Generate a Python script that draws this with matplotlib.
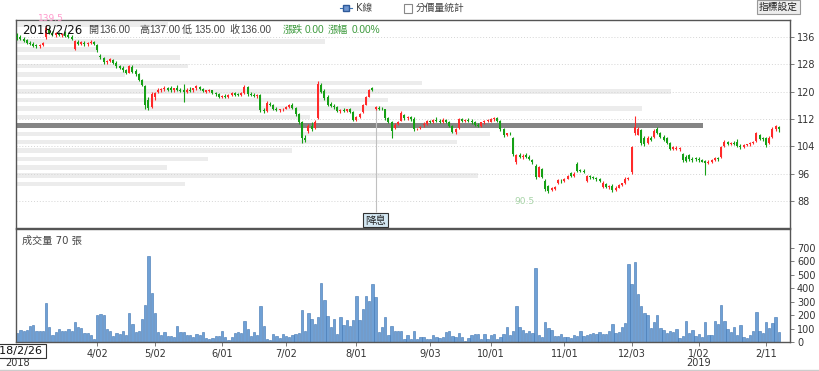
import matplotlib
matplotlib.use('Agg')
import matplotlib.pyplot as plt
from matplotlib.patches import Rectangle
from matplotlib.lines import Line2D
import numpy as np

plt.rcParams['font.family'] = ['DejaVu Sans', 'Noto Sans CJK TC']

# ---------------- data ----------------
opens = [136,136,135.5,135,134.2,134,133.5,133.2,133.5,135.8,
         138.3,137.2,136.6,137,136.5,137,136.5,136,132.4,134.6,
         134,134.3,133.8,134.3,134.4,133.5,130.5,129.8,128.5,129,
         129.2,128.3,127.4,126.8,126.2,125.5,127.3,126,125,123.4,
         121.5,117.5,115.5,118.5,119.8,120.6,120.8,121,121,120.4,
         121.2,120.5,120.6,120,120.5,120.4,121,121.4,120.8,120,
         120.3,120.4,119.6,119.2,118.4,118.6,118.3,119,119.5,119.2,
         119,119.6,121.3,119.3,119,118.8,119,114.5,114.2,116.5,
         116,115,114.5,114.8,115,115.5,116,115.3,113.4,111,
         106.5,108.5,110,109.5,112.3,122,120.2,118.5,116.4,115.8,
         115.5,114.4,114.6,114.4,114.8,114,111.8,112.6,114,116.2,
         118.5,121,114.8,115.3,115,114.8,112.2,111.2,109.5,110.5,
         111.5,113.2,112.2,112.6,112,109,109.3,110.2,110.6,111.4,
         111,111.6,111.5,111,111.8,111,110,108.2,109.4,112,
         111.4,111.8,111.5,111,110.4,110,111,111.4,111.2,112,
         112.2,111.4,109,107.2,107.6,106.5,99.4,101.6,101,101.4,
         100.9,100,98.4,95.2,97.5,94,92.4,91.2,91.6,93.4,
         94,93.8,94.6,96.3,95.5,99,97,96.9,93.8,95.4,
         95,94.8,94.4,92.2,93,92.2,92.6,91.2,92,92.8,
         93.2,94.6,96.4,108,107.4,108.8,106.6,105,106.4,106.8,
         109,107.8,106.8,106.4,105,103.4,103.2,103.2,101.8,101,
         101.4,100.4,100.6,100.4,100,99.8,99.2,99.6,100,100.6,
         100.8,104,105.2,104.8,105,105.2,104.2,103.8,104.4,104.6,
         105,105.6,107.4,106.6,106.4,105,106.8,109,109.8]
highs = [137,136.5,136,135.5,134.8,134.5,134,134,134.6,139.5,
         138.8,137.8,137.4,137.5,137.2,137.6,137,136.5,135,135.2,
         134.8,134.8,134.6,135,134.8,133.8,131,130.2,129.3,129.8,
         129.5,128.8,127.8,127.5,126.6,127.8,127.8,126.5,125.3,123.8,
         122,118.5,119.8,120,121,121.2,121.5,121.4,121.6,121.2,
         121.8,121,122.2,121,121.3,121.2,121.8,121.7,121.2,120.6,
         120.8,120.6,120,119.5,119,119.2,119.3,119.8,119.8,119.6,
         119.8,121.8,121.6,119.8,119.5,119.4,119.2,115.2,117.2,117,
         116.4,115.5,115,115.2,115.8,116.4,116.6,115.6,113.8,111.3,
         107.4,110.5,111,111.6,123,122.5,120.8,119,117,116.4,
         115.8,115,115.2,115,115.3,114.3,113,113.8,116.5,118.8,
         120.8,121.4,115.8,115.8,115.6,115,112.6,111.5,110.8,111.5,
         114.4,113.6,113,113,112.5,109.5,110,111,111.8,111.8,
         112,112.5,112,112.2,112,111.3,110.3,109.5,112.3,112.4,
         112,112.4,112,111.4,110.8,111.2,111.8,112,112.3,112.6,
         112.5,111.6,109.3,108,108.2,106.8,101.8,102.2,101.8,102,
         101.4,100.2,98.8,98.4,97.8,94.4,92.8,92.2,92.6,94.6,
         94.5,94.8,95.6,96.6,96.4,99.5,97.5,97.3,95.8,95.8,
         95.5,95.2,94.8,93.8,93.4,92.8,93,92.4,93,93.4,
         95,95.2,104.2,113,109.6,109,107,107,107,109,
         109.6,108.2,107.4,106.8,105.4,104.2,104,103.8,102.2,101.4,
         101.8,100.8,100.8,101,100.4,100,100,100.2,101,101,
         104.2,105.8,105.6,105.4,105.6,106.2,104.6,104.6,104.8,105.2,
         105.6,108.2,107.6,106.8,106.8,107,109.6,110.4,110]
lows = [135,135.2,134.5,134,133.5,133,132.8,132.8,133.2,135.5,
        136.8,136.2,136,136.2,135.8,136,135.6,135,132,133.6,
        133.5,133.4,133.4,134,133.6,131.5,129.5,128,128,128.6,
        128,127,126.5,125.8,125,125.3,125.5,124.7,123,121.5,
        115,114.5,115.2,117.5,119.5,120,120.2,120.3,120,119.8,
        120.2,119.8,117,119.5,119.8,120,120.6,120.6,119.8,119.5,
        119.8,119.4,118.8,118,118,118,118,118.7,118.8,118.6,
        118.8,119.4,118.8,118.6,118.3,118.2,114,113.8,114,115.8,
        114.6,114.2,114,114.3,114.8,115.2,115,113,110.5,105,
        105.4,108,108.5,109.2,112,119.5,117.5,115.8,115.4,115,
        114,113.8,114,114,113.8,111.4,111.5,112.4,113.8,116,
        118.3,120.2,114.6,114.6,114.5,111.8,110.8,106.5,109,110.2,
        111.3,111.8,111.6,111.5,108.6,108.8,109,109.8,110.4,110.8,
        110.8,111.2,110.8,110.8,110.8,109.6,107.8,107.5,109.2,111,
        111,111.2,110.6,110,109.6,109.8,110.6,111,111,111.5,
        111,108.5,106.8,107,107.2,101.2,99,100.5,100.4,100.6,
        100,99,94.6,95,94.8,91,90.5,91,91.4,93,
        93.4,93.6,94.4,95,95.2,96.5,96.4,96.3,93.5,94.6,
        94.4,94,93.6,92,91.8,91.6,90.8,91,91.8,92.4,
        93,94.2,96,107.4,107.2,104.5,104,104.8,105.6,106.6,
        107.6,106.4,105.6,104.6,103,103,103,102.8,99.6,99.4,
        99.8,99.6,99.8,99.6,99.4,95.7,98.8,99.2,99.8,99.8,
        100.6,103.8,104.4,104.4,104.4,103.8,103.4,103.6,104,104.2,
        104.6,105.4,105.8,105.6,103.8,104.8,106.6,108.6,108.2]
closes = [136,135.5,134.8,134.2,134,133.3,133.2,133.6,134.3,138.5,
          137.2,136.6,137,136.5,136.8,136.3,135.9,135.3,134.8,134,
          134.4,133.8,134.3,134.6,134,132,130,128.5,129,129.5,
          128.3,127.4,126.8,126.2,125.4,127.5,125.8,125,123.4,122,
          116,115.2,119.3,119.6,120.6,120.8,121,120.6,120.4,121,
          120.5,120.2,120,120.6,120.2,121,121.5,120.8,120.2,120.4,
          120.6,119.6,119.2,118.4,118.8,118.3,119.1,119.5,119.1,119,
          119.6,121.3,119.3,119,118.6,119,114.5,114.2,116.8,116.2,
          115,114.5,114.8,115,115.5,116,115.3,113.4,111,106.5,
          106,110,109,111.2,122.3,120,118,116.2,115.8,115.5,
          114.4,114.6,114.4,114.8,114,111.8,112.6,113.4,116.2,118.5,
          120.4,120.6,115.4,115,114.8,112.2,111.2,108.5,110.4,111.2,
          113.8,112.2,112.6,111.9,109,109.2,109.8,110.6,111.5,111,
          111.7,111.5,111.1,111.8,111.2,110,108.2,109.2,112,111.4,
          111.8,111.5,111,110.4,110,111,111.4,111.8,112,112.2,
          111.4,109,107.4,107.8,107.5,101.8,101.4,101,101.2,100.9,
          100.3,99.4,95,98,95.2,91.6,91,91.8,92.2,94.2,
          93.8,94.6,95.3,95.5,96.1,96.8,96.9,96.6,95.4,95,
          94.8,94.4,93.9,93.4,92.2,92.4,91.2,92,92.8,93.2,
          94.6,94.9,103.8,109.8,109.2,105,104.6,106.6,106,108.6,
          108,106.8,106,105,103.4,103.8,103.6,103.5,100,99.8,
          100.2,100,100.2,100,99.6,99.2,99.6,99.9,100.6,100.2,
          103.8,105.3,104.8,105,104.8,104.2,103.8,104.4,104.6,105,
          105.3,107.8,106.2,106.2,104.4,106.6,109.2,110,109.2]
volumes = [70,92,85,90,122,130,85,85,80,289,
           112,55,75,95,80,85,100,80,149,112,
           105,67,65,55,25,204,209,204,100,80,
           42,70,60,85,55,214,134,75,85,174,
           279,639,363,219,75,55,75,42,47,35,
           117,75,75,55,50,35,60,50,75,30,
           25,30,42,47,80,37,17,35,67,75,
           70,159,97,47,75,55,271,117,25,17,
           62,42,30,57,42,37,55,60,67,239,
           85,219,169,134,184,438,313,197,112,174,
           60,184,130,164,117,164,346,164,244,343,
           308,433,338,75,112,184,55,122,85,80,
           85,25,55,25,85,25,35,
           40,25,25,55,40,30,35,75,85,42,
           35,70,35,10,30,50,60,60,25,60,
           25,55,60,25,35,60,115,55,85,271,
           112,90,65,80,65,552,55,35,149,105,
           90,42,42,60,37,40,32,52,47,80,
           47,55,62,65,60,75,60,60,85,134,
           67,75,115,142,577,433,597,358,271,219,
           204,105,149,204,107,90,65,80,75,100,
           27,42,154,70,90,42,62,37,149,50,
           50,154,134,274,154,100,75,110,52,130,
           35,30,50,80,224,85,67,149,105,144,
           187,75]

tick_pos = [25, 43, 64, 84, 106, 129, 148, 171, 192, 213, 234]
tick_labels = ['4/02', '5/02', '6/01', '7/02', '8/01', '9/03', '10/01',
               '11/01', '12/03', '1/02', '2/11']
year_labels = [(0, '2018'), (213, '2019')]

price_ticks = [88, 96, 104, 112, 120, 128, 136]
vol_ticks = [0, 100, 200, 300, 400, 500, 600, 700]

# price-volume profile (分價量統計): price level, relative volume
profile_prices = [139.6, 134.6, 132.3, 130.0, 127.5, 125.0, 122.5, 120.1, 117.6,
                  115.1, 112.6, 110.1, 107.6, 105.3, 102.8, 100.3, 97.9, 95.5, 93.1]
profile_rel = [22.1, 45.0, 11.8, 23.9, 25.0, 15.9, 59.1, 95.3, 54.1,
               91.1, 42.8, 100.0, 69.0, 64.2, 40.2, 27.9, 22.0, 67.2, 24.6]

exdiv_index = 112
max_high_label = (9, 139.5)
min_low_label = (166, 90.5)

# ---------------- figure ----------------
W, H = 820, 371
fig = plt.figure(figsize=(8.2, 3.71), dpi=100)
def fx(x): return x / W
def fy(y): return 1 - y / H

XL, XR = -0.4, 241.5
ax = fig.add_axes([fx(16), fy(228), fx(790) - fx(16), fy(20) - fy(228)])
axv = fig.add_axes([fx(16), fy(342), fx(790) - fx(16), fy(229) - fy(342)])

n = len(closes)
x = np.arange(n)
o = np.array(opens); h = np.array(highs); l = np.array(lows); c = np.array(closes)
RED, GREEN = '#ff2a2a', '#15a015'
cols = [RED if c[i] > o[i] else GREEN for i in range(n)]

# profile bars
maxlen = (703 - 16) / 3.2
widths = [r / 100.0 * maxlen for r in profile_rel]
mx = int(np.argmax(profile_rel))
for i, (p, wdt) in enumerate(zip(profile_prices, widths)):
    if i == mx:
        ax.barh(p, wdt, height=1.5, left=XL, color='#858585', zorder=1, linewidth=0)
    else:
        ax.barh(p, wdt, height=1.3, left=XL, color='#ececec', zorder=1, linewidth=0)

ax.vlines(x, l, h, colors=cols, lw=0.8, zorder=3)
body_b = np.minimum(o, c)
body_h = np.maximum(np.abs(c - o), 0.18)
ax.bar(x, body_h, bottom=body_b, width=0.62, color=cols, linewidth=0, zorder=4)

ax.set_xlim(XL, XR)
ax.set_ylim(80.2, 140.9)
ax.yaxis.tick_right()
ax.set_yticks(price_ticks)
ax.set_xticks([])
ax.tick_params(axis='y', length=3, width=0.6, color='#666', labelsize=7,
               labelcolor='#333', pad=2)
ax.grid(axis='y', linestyle=(0, (1, 2)), color='#d5d5d5', lw=0.7, zorder=0)
for s in ax.spines.values():
    s.set_color('#555'); s.set_linewidth(1)

# labels for extremes
ax.text(max_high_label[0] + 1.5, max_high_label[1] + 1.7, f'{max_high_label[1]}',
        color='#ff99cc', fontsize=6.5, ha='center', va='center', clip_on=False)
ax.text(min_low_label[0] - 7.5, min_low_label[1] - 2.5, f'{min_low_label[1]}',
        color='#a8d4a8', fontsize=6.5, ha='center', va='center')

# ex-dividend marker
ax.vlines(exdiv_index, 84.8, l[exdiv_index] + 0.2, colors='#c0c0c0', lw=0.8, zorder=2)
ax.text(exdiv_index, 82.4, '降息', fontsize=7.5, ha='center', va='center', color='#222',
        bbox=dict(boxstyle='square,pad=0.18', fc='#d4e8f3', ec='#333', lw=0.8), zorder=6)

# volume
axv.bar(x, volumes, width=0.72, color='#6fa0d5', edgecolor='#3f74b2', linewidth=0.4)
axv.set_xlim(XL, XR)
axv.set_ylim(0, 841)
axv.yaxis.tick_right()
axv.set_yticks(vol_ticks)
axv.set_xticks(tick_pos)
axv.set_xticklabels(tick_labels)
axv.tick_params(axis='y', length=3, width=0.6, color='#666', labelsize=7,
                labelcolor='#333', pad=2)
axv.tick_params(axis='x', length=3, width=0.6, color='#666', labelsize=7,
                labelcolor='#333', pad=2)
for s in axv.spines.values():
    s.set_color('#555'); s.set_linewidth(1)
for xi, yl in year_labels:
    axv.text(xi, -0.19, yl, transform=axv.get_xaxis_transform(), fontsize=7,
             color='#333', ha='center', va='center')

# ---------------- annotations (pixel placed) ----------------
def ftext(px, py, s, **kw):
    fig.text(fx(px), fy(py), s, **kw)

TIPFONT = ['Liberation Sans', 'Noto Sans CJK TC']
ftext(22, 30, '2018/2/26', fontsize=8.5, color='#111', va='center')
items = [(88, '開'), (99, '136.00'), (139, '高'), (149, '137.00'),
         (182, '低'), (194, '135.00'), (229, '收'), (240, '136.00')]
for px, s in items:
    ftext(px, 30, s, fontsize=7.3, color='#444', va='center', family=TIPFONT)
for px, s in [(283, '漲跌'), (305, '0.00'), (328, '漲幅'), (352, '0.00%')]:
    ftext(px, 30, s, fontsize=7.3, color='#3d9a3d', va='center', family=TIPFONT)

ftext(22, 241, '成交量 70 張', fontsize=7.3, color='#444', va='center')

# legend at top
fig.add_artist(Line2D([fx(340), fx(352)], [fy(8), fy(8)], color='#3f74b2', lw=0.8))
fig.add_artist(Line2D([fx(346)], [fy(8)], marker='s', markersize=4.5,
                      markerfacecolor='#6f96d0', markeredgecolor='#2f5a99', lw=0))
ftext(356, 8, 'K線', fontsize=7, color='#444', va='center')
fig.add_artist(Rectangle((fx(404), fy(12.5)), fx(8), 8 / H, fc='white', ec='#888', lw=0.8))
ftext(416, 8, '分價量統計', fontsize=7, color='#444', va='center')

# button
fig.add_artist(Rectangle((fx(757), fy(14)), fx(43), 14 / H, fc='#ededed', ec='#999', lw=0.8))
ftext(778.5, 7, '指標設定', fontsize=7, color='#222', va='center', ha='center')

# cursor date box at bottom-left
fig.add_artist(Rectangle((fx(-5), fy(358)), fx(51), 14 / H, fc='white', ec='#333', lw=0.8,
                         zorder=10))
ftext(42, 351, '2018/2/26', fontsize=8, color='#111', va='center', ha='right', zorder=11)

# bottom frame line
fig.add_artist(Line2D([0, 1], [fy(369.5), fy(369.5)], color='#cccccc', lw=1))

fig.savefig('out.png', dpi=100)
